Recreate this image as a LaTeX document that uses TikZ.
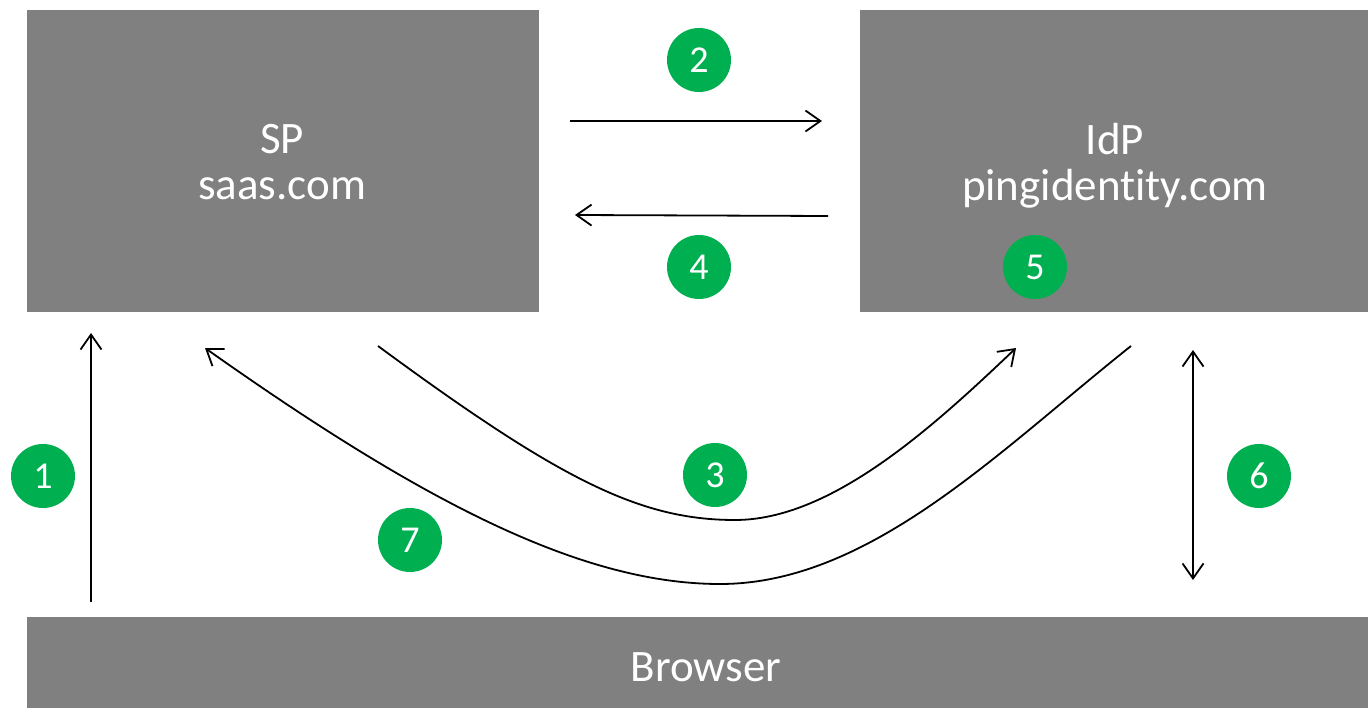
\documentclass[tikz,border=0pt]{standalone}
\usepackage{fontspec}
\setmainfont[Ligatures={NoCommon}]{Carlito}
\usetikzlibrary{arrows.meta}
\definecolor{boxgray}{HTML}{808080}
\definecolor{stepgreen}{HTML}{00B050}
\tikzset{
  box/.style={fill=boxgray, draw=none, inner sep=0pt, text=white, font=\fontsize{45}{52}\selectfont, align=center},
  boxtext/.style={text=white, font=\fontsize{45}{52}\selectfont},
  num/.style={circle, fill=stepgreen, draw=none, minimum size=64pt, inner sep=0pt, text=white, font=\fontsize{38}{40}\selectfont},
  conn/.style={line width=1.8pt, black, -{Straight Barb[length=15pt,width=21pt,line width=1.8pt]}},
  conn2/.style={line width=1.8pt, black, {Straight Barb[length=15pt,width=21pt,line width=1.8pt]}-{Straight Barb[length=15pt,width=21pt,line width=1.8pt]}}
}
\begin{document}
\begin{tikzpicture}[x=1pt,y=-1pt]
\useasboundingbox (0,0) rectangle (1368,708);
% boxes
\node[box, minimum width=512pt, minimum height=302pt] (sp) at (283,161) {};
\node[box, minimum width=508pt, minimum height=302pt] (idp) at (1114,161) {};
\node[box, minimum width=1341pt, minimum height=91pt] (br) at (697.5,662.5) {};
\node[boxtext] (spt1) at (282,139) {SP};
\node[boxtext] (spt2) at (282,189) {saas.com};
\node[boxtext] (idpt1) at (1115,139) {IdP};
\node[boxtext] (idpt2) at (1115,189) {pingidentity.com};
\node[boxtext] (brt) at (706,667) {Browser};
% numbers
\node[num] (n1) at (43,476) {1};
\node[num] (n2) at (699,60) {2};
\node[num] (n3) at (715,475) {3};
\node[num] (n4) at (699,267) {4};
\node[num] (n5) at (1035,267) {5};
\node[num] (n6) at (1259,476) {6};
\node[num] (n7) at (410,540) {7};
% connector endpoints
\coordinate (a1s) at (91,602);
\coordinate (a1e) at (91,333);
\coordinate (a2s) at (570,121);
\coordinate (a2e) at (822,121);
\coordinate (a4s) at (828,216);
\coordinate (a4e) at (575,215);
\coordinate (a6s) at (1193,350);
\coordinate (a6e) at (1193,580);
\coordinate (c3s) at (378,346);
\coordinate (c3m) at (735,520);
\coordinate (c3e) at (1016,348);
\coordinate (c7s) at (1131,346);
\coordinate (c7m) at (720,584);
\coordinate (c7e) at (205,348);
% connectors
\draw[conn] (a1s) -- (a1e);
\draw[conn] (a2s) -- (a2e);
\draw[conn] (a4s) -- (a4e);
\draw[conn2] (a6s) -- (a6e);
\draw[conn] (c3s) .. controls (560,480) and (640,520) .. (c3m) .. controls (830,520) and (930,430) .. (c3e);
\draw[conn] (c7s) .. controls (1000,450) and (870,584) .. (c7m) .. controls (580,584) and (420,500) .. (c7e);
\end{tikzpicture}
\end{document}
